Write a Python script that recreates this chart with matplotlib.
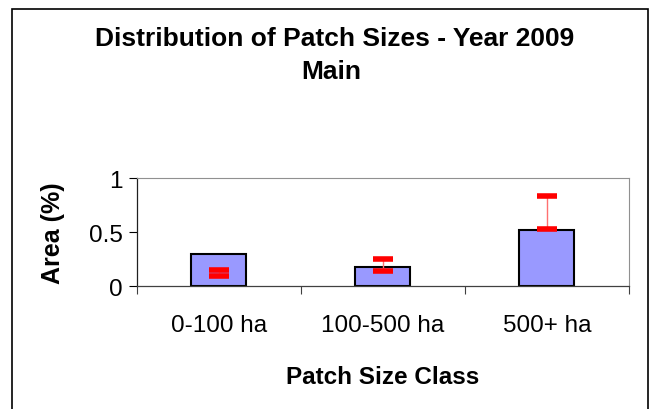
import numpy as np
import matplotlib
matplotlib.use("Agg")
from matplotlib import pyplot as plt
from matplotlib.patches import Rectangle

plt.rcParams['font.family'] = ['Liberation Sans', 'DejaVu Sans']

categories = ['0-100 ha', '100-500 ha', '500+ ha']
area = [0.298, 0.175, 0.523]
err_lower = [0.092, 0.139, 0.529]
err_upper = [0.150, 0.252, 0.831]

fig = plt.figure(figsize=(6.5, 4.1), dpi=100)
ax = fig.add_axes([136.7/650, 1-287.3/410, (629-136.7)/650, (287.3-179)/410])

x = np.arange(len(categories))
ax.bar(x, area, width=0.335, color='#9999ff', edgecolor='black', linewidth=1.5, zorder=2)

lo = np.array(err_lower)
hi = np.array(err_upper)
ax.errorbar(x, (lo + hi) / 2, yerr=(hi - lo) / 2, fmt='none', ecolor='#ff7070',
            elinewidth=1, capsize=0, zorder=3)
# thick caps drawn as markers
ax.plot(x, lo, linestyle='none', marker='_', markersize=15, markeredgewidth=4,
        color='#ff0000', zorder=4)
ax.plot(x, hi, linestyle='none', marker='_', markersize=15, markeredgewidth=4,
        color='#ff0000', zorder=4)

ax.set_xlim(-0.5, len(categories) - 0.5)
ax.set_ylim(0, 1)
ax.set_yticks([0, 0.5, 1])
ax.set_yticklabels(['0', '0.5', '1'])
ax.set_xticks(np.arange(-0.5, len(categories), 1.0))
ax.set_xticklabels([])
ax.set_xticks(x, minor=True)
ax.set_xticklabels(categories, minor=True)
ax.tick_params(axis='x', which='major', direction='out', length=6, width=0.8, color='#404040')
ax.tick_params(axis='x', which='minor', length=0, labelsize=17.5, pad=20)
ax.tick_params(axis='y', direction='out', length=6, width=0.8, labelsize=17.5, pad=4)

for s in ['top', 'right']:
    ax.spines[s].set_color('#909090')
    ax.spines[s].set_linewidth(0.8)
ax.spines['left'].set_color('#202020')
ax.spines['bottom'].set_color('#404040')
ax.spines['left'].set_linewidth(0.9)
ax.spines['bottom'].set_linewidth(0.9)

fig.text(335/650, 1-38.5/410, 'Distribution of Patch Sizes - Year 2009',
         ha='center', va='center', fontsize=19, fontweight='bold')
fig.text(331/650, 1-72.5/410, 'Main', ha='center', va='center', fontsize=19, fontweight='bold')
fig.text(53/650, 1-233.5/410, 'Area (%)', ha='center', va='center', rotation=90,
         fontsize=18, fontweight='bold')
fig.text(382.5/650, 1-378/410, 'Patch Size Class', ha='center', va='center',
         fontsize=17.5, fontweight='bold')

# chart border
fig.patches.append(Rectangle((12/650, -0.05), (648-12)/650, 1.05 - 10/410,
                             transform=fig.transFigure, fill=False,
                             edgecolor='black', linewidth=1.2))

fig.savefig('out.png', dpi=100)
